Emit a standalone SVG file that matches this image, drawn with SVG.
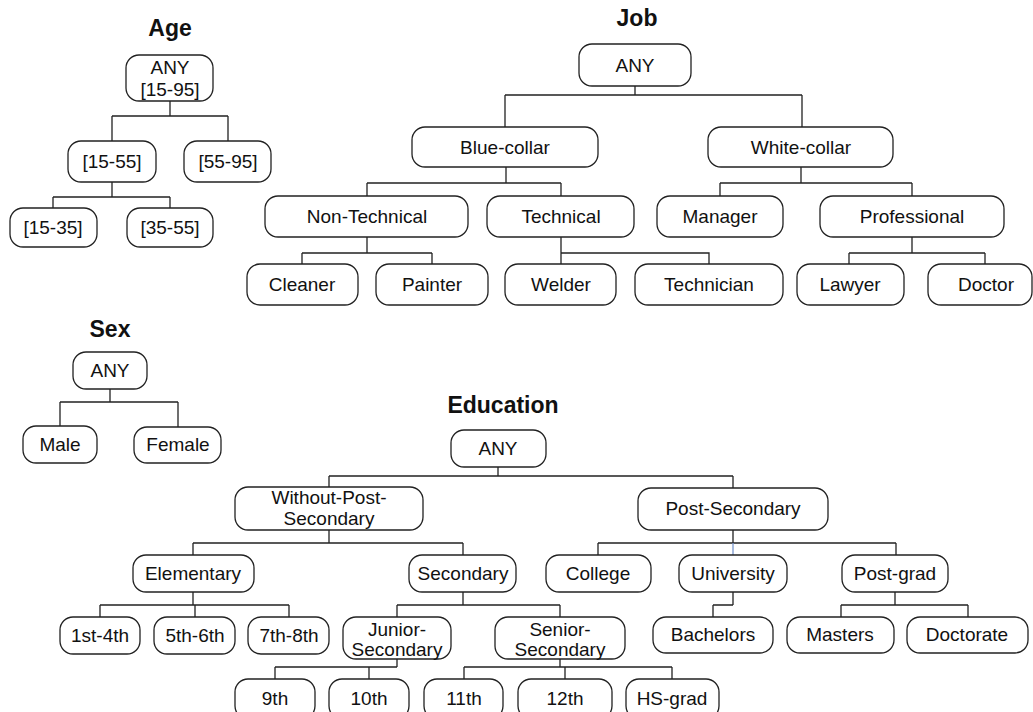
<svg xmlns="http://www.w3.org/2000/svg" width="1033" height="712" viewBox="0 0 1033 712">
<style>
.n rect{fill:#fff;stroke:#222;stroke-width:1.3}
text{font-family:"Liberation Sans",Arial,sans-serif;font-size:19px;fill:#111;text-anchor:middle}
.t{font-weight:bold;font-size:23px}
.c{fill:none;stroke:#222;stroke-width:1.3}
</style>
<rect width="1033" height="712" fill="#fff"/>
<g id="titles">
<text class="t" x="170" y="36">Age</text>
<text class="t" x="637" y="26">Job</text>
<text class="t" x="110" y="337">Sex</text>
<text class="t" x="503" y="413">Education</text>
</g>
<g id="connectors">
<path class="c" d="M170,101V116M112,116H228M112,116V141M228,116V141M112,182V197M53,197H170M53,197V208M170,197V208"/>
<path class="c" d="M635,86V95M505,95H802M505,95V127M802,95V127M506,167V183M367,183H561M367,183V196M561,183V196M801,167V183M720,183H912M720,183V196M912,183V196M367,237V253M302,253H432M302,253V264M432,253V264M561,237V264M561,253H709V264M912,237V253M849,253H985M849,253V264M985,253V264"/>
<path class="c" d="M110,389V402M60,402H178M60,402V426M178,402V427"/>
<path class="c" d="M498,467V476M329,476H733M329,476V487M733,476V488M329,530V543M193,543H463M193,543V555M463,543V555M733,530V543M598,543H896M598,543V555M896,543V555M193,592V605M100,605H289M100,605V617M195,605V617M289,605V617M463,592V605M397,605H560M397,605V617M560,605V617M397,659V667M275,667H397M275,667V679M369,667V679M560,659V667M464,667H672M464,667V679M565,667V679M672,667V679M733,592V605M713,605H733M713,605V617M895,592V605M841,605H968M841,605V617M968,605V617"/>
<path d="M733,543V555" fill="none" stroke="#7896cc" stroke-width="1.3"/>
</g>
<g id="age-any" class="n"><rect x="126" y="55" width="87" height="46" rx="13"/><text x="170" y="74">ANY</text><text x="170" y="96">[15-95]</text></g>
<g id="age-15-55" class="n"><rect x="68" y="141" width="88" height="41" rx="13"/><text x="112" y="168">[15-55]</text></g>
<g id="age-55-95" class="n"><rect x="184" y="141" width="87" height="41" rx="13"/><text x="228" y="168">[55-95]</text></g>
<g id="age-15-35" class="n"><rect x="10" y="208" width="87" height="39" rx="13"/><text x="53" y="234">[15-35]</text></g>
<g id="age-35-55" class="n"><rect x="127" y="208" width="86" height="39" rx="13"/><text x="170" y="234">[35-55]</text></g>

<g id="job-any" class="n"><rect x="579" y="44" width="112" height="42" rx="13"/><text x="635" y="72">ANY</text></g>
<g id="job-blue" class="n"><rect x="412" y="127" width="186" height="40" rx="13"/><text x="505" y="154">Blue-collar</text></g>
<g id="job-white" class="n"><rect x="708" y="127" width="185" height="40" rx="13"/><text x="801" y="154">White-collar</text></g>
<g id="job-nontech" class="n"><rect x="265" y="196" width="203" height="41" rx="13"/><text x="367" y="223">Non-Technical</text></g>
<g id="job-tech" class="n"><rect x="487" y="196" width="147" height="41" rx="13"/><text x="561" y="223">Technical</text></g>
<g id="job-manager" class="n"><rect x="657" y="196" width="126" height="41" rx="13"/><text x="720" y="223">Manager</text></g>
<g id="job-prof" class="n"><rect x="820" y="196" width="184" height="41" rx="13"/><text x="912" y="223">Professional</text></g>
<g id="job-cleaner" class="n"><rect x="247" y="264" width="111" height="41" rx="13"/><text x="302" y="291">Cleaner</text></g>
<g id="job-painter" class="n"><rect x="376" y="264" width="112" height="41" rx="13"/><text x="432" y="291">Painter</text></g>
<g id="job-welder" class="n"><rect x="505" y="264" width="111" height="41" rx="13"/><text x="561" y="291">Welder</text></g>
<g id="job-technician" class="n"><rect x="635" y="264" width="148" height="41" rx="13"/><text x="709" y="291">Technician</text></g>
<g id="job-lawyer" class="n"><rect x="797" y="264" width="107" height="41" rx="13"/><text x="850" y="291">Lawyer</text></g>
<g id="job-doctor" class="n"><rect x="928" y="264" width="104" height="41" rx="13"/><text x="986" y="291">Doctor</text></g>

<g id="sex-any" class="n"><rect x="73" y="352" width="74" height="37" rx="13"/><text x="110" y="377">ANY</text></g>
<g id="sex-male" class="n"><rect x="23" y="426" width="74" height="37" rx="13"/><text x="60" y="451">Male</text></g>
<g id="sex-female" class="n"><rect x="134" y="427" width="87" height="36" rx="13"/><text x="178" y="451">Female</text></g>

<g id="edu-any" class="n"><rect x="451" y="430" width="95" height="37" rx="13"/><text x="498" y="455">ANY</text></g>
<g id="edu-wps" class="n"><rect x="235" y="487" width="188" height="43" rx="13"/><text x="329" y="504">Without-Post-</text><text x="329" y="525">Secondary</text></g>
<g id="edu-ps" class="n"><rect x="638" y="488" width="190" height="42" rx="13"/><text x="733" y="515">Post-Secondary</text></g>
<g id="edu-elementary" class="n"><rect x="133" y="555" width="121" height="37" rx="13"/><text x="193" y="580">Elementary</text></g>
<g id="edu-secondary" class="n"><rect x="409" y="555" width="107" height="37" rx="13"/><text x="463" y="580">Secondary</text></g>
<g id="edu-college" class="n"><rect x="546" y="555" width="105" height="37" rx="13"/><text x="598" y="580">College</text></g>
<g id="edu-university" class="n"><rect x="679" y="555" width="108" height="37" rx="13"/><text x="733" y="580">University</text></g>
<g id="edu-postgrad" class="n"><rect x="842" y="555" width="106" height="37" rx="13"/><text x="895" y="580">Post-grad</text></g>
<g id="edu-1st-4th" class="n"><rect x="60" y="617" width="80" height="37" rx="13"/><text x="100" y="642">1st-4th</text></g>
<g id="edu-5th-6th" class="n"><rect x="154" y="617" width="81" height="37" rx="13"/><text x="195" y="642">5th-6th</text></g>
<g id="edu-7th-8th" class="n"><rect x="248" y="617" width="81" height="37" rx="13"/><text x="289" y="642">7th-8th</text></g>
<g id="edu-junior" class="n"><rect x="343" y="617" width="108" height="42" rx="13"/><text x="397" y="636">Junior-</text><text x="397" y="656">Secondary</text></g>
<g id="edu-senior" class="n"><rect x="495" y="617" width="130" height="42" rx="13"/><text x="560" y="636">Senior-</text><text x="560" y="656">Secondary</text></g>
<g id="edu-bachelors" class="n"><rect x="653" y="617" width="120" height="36" rx="13"/><text x="713" y="641">Bachelors</text></g>
<g id="edu-masters" class="n"><rect x="787" y="617" width="107" height="36" rx="13"/><text x="840" y="641">Masters</text></g>
<g id="edu-doctorate" class="n"><rect x="907" y="617" width="121" height="36" rx="13"/><text x="967" y="641">Doctorate</text></g>
<g id="edu-9th" class="n"><rect x="235" y="679" width="80" height="40" rx="13"/><text x="275" y="705">9th</text></g>
<g id="edu-10th" class="n"><rect x="329" y="679" width="80" height="40" rx="13"/><text x="369" y="705">10th</text></g>
<g id="edu-11th" class="n"><rect x="424" y="679" width="79" height="40" rx="13"/><text x="464" y="705">11th</text></g>
<g id="edu-12th" class="n"><rect x="518" y="679" width="94" height="40" rx="13"/><text x="565" y="705">12th</text></g>
<g id="edu-hsgrad" class="n"><rect x="626" y="679" width="93" height="40" rx="13"/><text x="672" y="705">HS-grad</text></g>
</svg>
